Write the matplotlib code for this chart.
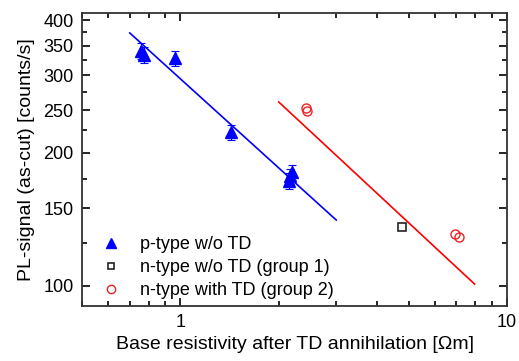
import matplotlib
matplotlib.use('Agg')
import matplotlib.pyplot as plt
from matplotlib.lines import Line2D
from matplotlib.ticker import FixedLocator, NullFormatter

plt.rcParams['font.family'] = ['Liberation Sans', 'DejaVu Sans']

# p-type w/o TD (with error bars)
p_x = [0.76, 0.775, 0.96, 1.43, 2.15, 2.17, 2.19]
p_y = [340, 333, 328, 223, 173, 177, 181]
p_err = [14, 14, 13, 9, 7, 7, 7]

# n-type w/o TD (group 1)
n1_x = [4.78]
n1_y = [136]

# n-type with TD (group 2)
n2_x = [2.43, 2.45, 6.95, 7.12]
n2_y = [253, 249, 131, 129]

# fitted lines
fit_p_x = [0.70, 3.0]
fit_p_y = [374, 141]
fit_n_x = [2.0, 7.95]
fit_n_y = [261, 101]

fig = plt.figure(figsize=(5.19, 3.61), dpi=100)
ax = fig.add_axes([0.158, 0.152, 0.819, 0.812])

ax.plot(fit_p_x, fit_p_y, '-', color='#0000ff', lw=1.2)
ax.plot(fit_n_x, fit_n_y, '-', color='#ff0000', lw=1.2)

ax.errorbar(p_x, p_y, yerr=p_err, fmt='^', color='#0000ff', ms=8,
            capsize=3, elinewidth=0.8, capthick=0.8)
ax.plot(n1_x, n1_y, 's', mfc='none', mec='#222222', ms=6, mew=1.2)
ax.plot(n2_x, n2_y, 'o', mfc='none', mec='#ee2222', ms=6.5, mew=1.0)

handles = [
    Line2D([], [], ls='none', marker='^', color='#0000ff', ms=7),
    Line2D([], [], ls='none', marker='s', mfc='none', mec='#222222', ms=5, mew=1.2),
    Line2D([], [], ls='none', marker='o', mfc='none', mec='#ee2222', ms=6, mew=1.0),
]
labels = ['p-type w/o TD', 'n-type w/o TD (group 1)', 'n-type with TD (group 2)']

ax.set_xscale('log')
ax.set_yscale('log')
ax.set_xlim(0.5, 10)
ax.set_ylim(90, 415)

ax.xaxis.set_major_locator(FixedLocator([1, 10]))
ax.set_xticklabels(['1', '10'])
ax.xaxis.set_minor_locator(FixedLocator([0.5, 0.6, 0.7, 0.8, 0.9, 2, 3, 4, 5, 6, 7, 8, 9]))
ax.xaxis.set_minor_formatter(NullFormatter())

yt = [100, 150, 200, 250, 300, 350, 400]
ax.yaxis.set_major_locator(FixedLocator(yt))
ax.set_yticklabels([str(v) for v in yt])
ax.yaxis.set_minor_locator(FixedLocator([125, 175, 225, 275, 325, 375]))
ax.yaxis.set_minor_formatter(NullFormatter())

ax.tick_params(which='both', direction='in', top=True, right=True, labelsize=13,
               width=1.2, pad=6)
ax.tick_params(which='major', length=6)
ax.tick_params(which='minor', length=3.5)
for s in ax.spines.values():
    s.set_linewidth(1.3)
    s.set_color('#333333')

ax.set_xlabel('Base resistivity after TD annihilation [\u03a9m]', fontsize=14, labelpad=3)
ax.set_ylabel('PL-signal (as-cut) [counts/s]', fontsize=14, labelpad=6)

ax.legend(handles, labels, loc='lower left', frameon=False, fontsize=13,
          handletextpad=1.1, labelspacing=0.32, borderaxespad=0.0,
          handlelength=1.0, bbox_to_anchor=(0.03, 0.0))

fig.savefig('out.png', dpi=100)
